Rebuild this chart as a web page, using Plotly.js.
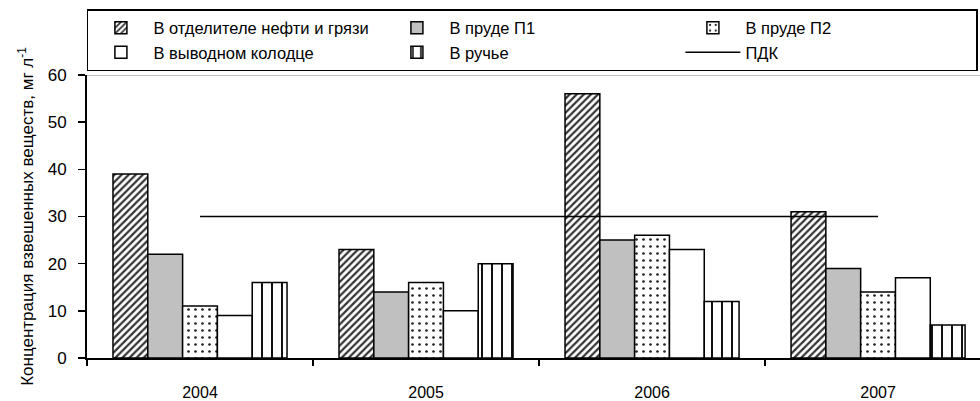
<!DOCTYPE html>
<html>
<head>
<meta charset="utf-8">
<script src="https://cdn.plot.ly/plotly-3.0.1.min.js"></script>
<style>html,body{margin:0;padding:0;background:#fff;}#chart{width:980px;height:401px;}</style>
</head>
<body>
<div id="chart"></div>
<script>
var years = ['2004', '2005', '2006', '2007'];
var seriesNames = ['В отделителе нефти и грязи', 'В пруде П1', 'В пруде П2', 'В выводном колодце', 'В ручье', 'ПДК'];
var separator = [39, 23, 56, 31];
var pond1 = [22, 14, 25, 19];
var pond2 = [11, 16, 26, 14];
var outletWell = [9, 10, 23, 17];
var stream = [16, 20, 12, 7];
var pdk = [30, 30, 30, 30];
var yTicks = [0, 10, 20, 30, 40, 50, 60];

var outline = {color: '#000', width: 1.5};
function bar(name, vals, marker) {
  marker.line = outline;
  return {type: 'bar', name: name, x: years, y: vals, marker: marker, hoverinfo: 'y'};
}
var traces = [
  bar(seriesNames[0], separator, {color: '#fff', pattern: {shape: '/', fgcolor: '#333', bgcolor: '#fff', size: 5, solidity: 0.45}}),
  bar(seriesNames[1], pond1, {color: '#c0c0c0'}),
  bar(seriesNames[2], pond2, {color: '#fff', pattern: {shape: '.', fgcolor: '#222', bgcolor: '#fff', size: 7, solidity: 0.12}}),
  bar(seriesNames[3], outletWell, {color: '#fff'}),
  bar(seriesNames[4], stream, {color: '#fff', pattern: {shape: '|', fgcolor: '#111', bgcolor: '#fff', size: 10, solidity: 0.2}}),
  {type: 'scatter', mode: 'lines', name: seriesNames[5], x: years, y: pdk, line: {color: '#000', width: 1.5}}
];

var font = {family: 'Liberation Sans, Arial, sans-serif', color: '#000'};
var layout = {
  width: 980, height: 401,
  margin: {l: 87, r: 0, t: 75, b: 43},
  paper_bgcolor: '#fff', plot_bgcolor: '#fff',
  font: {family: font.family, color: '#000', size: 16},
  barmode: 'group', bargap: 0.23, bargroupgap: 0,
  showlegend: true,
  legend: {
    orientation: 'h', x: -0.0001, xanchor: 'left', y: 1.2332, yanchor: 'top',
    bordercolor: '#000', borderwidth: 1.5, bgcolor: '#fff',
    entrywidth: 226, entrywidthmode: 'pixels', itemwidth: 55,
    font: {family: font.family, size: 16.5, color: '#000'},
    traceorder: 'normal'
  },
  xaxis: {
    type: 'category', range: [-0.5, 3.451], fixedrange: true,
    showline: true, linecolor: '#000', linewidth: 2,
    ticks: 'outside', tickson: 'boundaries', ticklen: 6, tickwidth: 1.5, tickcolor: '#000',
    ticklabelstandoff: 19,
    tickfont: {family: font.family, size: 16, color: '#000'},
    showgrid: false, zeroline: false
  },
  yaxis: {
    range: [0, 60], tickvals: yTicks, ticktext: yTicks.map(String), fixedrange: true,
    showline: true, linecolor: '#000', linewidth: 2,
    ticks: 'outside', ticklen: 7, tickwidth: 1.5, tickcolor: '#000',
    ticklabelstandoff: 8,
    tickfont: {family: font.family, size: 17, color: '#000'},
    showgrid: false, zeroline: false,
    title: {text: 'Концентрация взвешенных веществ, мг л<sup>-1</sup>', font: {family: font.family, size: 17, color: '#000'}, standoff: 10}
  },
  shapes: [
    {type: 'line', xref: 'paper', yref: 'y', x0: 0, x1: 1, y0: 60, y1: 60, line: {color: '#aaa', width: 1.5}}
  ]
};
Plotly.newPlot('chart', traces, layout, {displayModeBar: false, staticPlot: true});
</script>
</body>
</html>
